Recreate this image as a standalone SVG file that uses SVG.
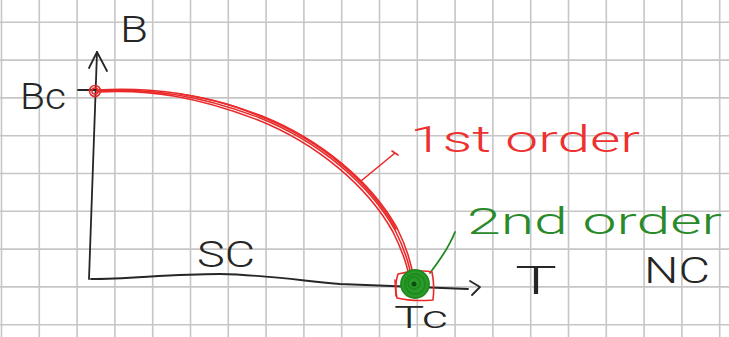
<svg xmlns="http://www.w3.org/2000/svg" width="729" height="337" viewBox="0 0 729 337">
<defs>
<style>
.grid{stroke:#c6c6c6;stroke-width:1.6;fill:none}
.ink{stroke:#262626;stroke-width:1.8;fill:none;stroke-linecap:round;stroke-linejoin:round}
.red{stroke:#ea2a2a;stroke-width:1.6;fill:none;stroke-linecap:round;stroke-linejoin:round}
.grn{stroke:#1e8a1e;stroke-width:1.8;fill:none;stroke-linecap:round;stroke-linejoin:round}
.lbl{font-family:Roboto,"Liberation Sans",sans-serif;fill:#262626;font-weight:300}
.rl{font-family:Roboto,"Liberation Sans",sans-serif;fill:#ee3030;font-weight:300}
.gl{font-family:Roboto,"Liberation Sans",sans-serif;fill:#2a8a2a;font-weight:300}
</style>
</defs>
<rect width="729" height="337" fill="#ffffff"/>
<g id="grid">
<path class="grid" d="M1.5,0V337M39.3,0V337M77.1,0V337M114.9,0V337M152.7,0V337M190.5,0V337M228.3,0V337M266.1,0V337M303.9,0V337M341.7,0V337M379.5,0V337M417.3,0V337M455.1,0V337M492.9,0V337M530.7,0V337M568.5,0V337M606.3,0V337M644.1,0V337M681.9,0V337M719.7,0V337"/>
<path class="grid" d="M0,22.3H729M0,60.1H729M0,97.9H729M0,135.7H729M0,173.5H729M0,211.3H729M0,249.1H729M0,286.9H729M0,324.7H729"/>
</g>
<g id="connectors">
<path class="ink" d="M89,279 L97,52"/>
<path class="ink" d="M89,68 L97,52 L107,71"/>
<path class="ink" d="M91,279 C130,279 170,274 220,274 C270,275 310,282 340,284 L468,289"/>
<path class="ink" d="M470,281 L480,287 L472,295"/>
<path class="ink" d="M78,90 L97,90"/>
<path class="red" d="M361,181 L395,153 M392,151 L398,155"/>
<path class="grn" d="M430,273 C440,260 450,245 455,232"/>
</g>
<g id="first-order-curve">
<path class="red" d="M97,91 C150,88 200,95 260,118 C320,142 370,185 395,230 C405,250 410,265 412,282"/>
<path class="red" d="M97,90 C150,87 202,93 262,116 C322,140 372,183 397,228 C407,248 412,264 414,282"/>
<path class="red" d="M97,92 C150,89 198,97 258,120 C318,144 368,187 393,232 C403,252 408,266 410,282"/>
<path class="red" d="M180,94 C220,100 240,108 262,117 C322,141 371,184 396,229"/>
</g>
<g id="Bc-point">
<circle cx="95" cy="91" r="5.5" class="red" stroke-width="2.4"/>
<circle cx="95" cy="91" r="3" class="red" stroke-width="2"/>
</g>
<g id="Tc-point">
<path class="red" stroke-width="2" d="M398,274 C410,271 425,270 432,272 C434,282 434,292 433,300 C420,301 405,300 397,298 C395,290 396,280 398,274"/>
<path class="red" d="M395,280 L396,296"/>
<circle cx="415" cy="284" r="14" fill="#2a9a2a"/>
<circle cx="415" cy="284" r="14" class="grn" stroke="#137013" stroke-width="2"/>
<circle cx="415" cy="284" r="10" class="grn" stroke="#0f5f0f" stroke-width="2"/>
<circle cx="414" cy="283" r="6" class="grn" stroke="#0f5f0f" stroke-width="2"/>
<circle cx="414" cy="284" r="2.5" fill="#0d4d0d"/>
</g>
<g id="labels">
<text class="lbl" x="120" y="42" font-size="36" textLength="28" lengthAdjust="spacingAndGlyphs">B</text>
<text class="lbl" x="20" y="109" font-size="36" textLength="46" lengthAdjust="spacingAndGlyphs">Bc</text>
<text class="lbl" x="197" y="267" font-size="36" textLength="58" lengthAdjust="spacingAndGlyphs">SC</text>
<text class="lbl" x="515" y="294" font-size="38" textLength="42" lengthAdjust="spacingAndGlyphs">T</text>
<text class="lbl" x="644" y="283" font-size="36" textLength="66" lengthAdjust="spacingAndGlyphs">NC</text>
<text class="lbl" x="394" y="328" font-size="32" textLength="54" lengthAdjust="spacingAndGlyphs">Tc</text>
<text class="rl" x="410" y="152" font-size="36" textLength="230" lengthAdjust="spacingAndGlyphs">1st order</text>
<text class="gl" x="467" y="234" font-size="36" textLength="255" lengthAdjust="spacingAndGlyphs">2nd order</text>
</g>
</svg>
